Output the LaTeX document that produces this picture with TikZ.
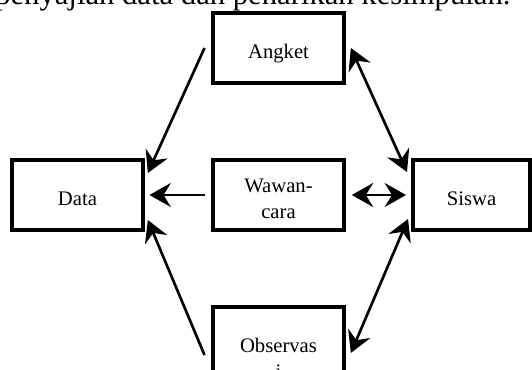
\documentclass[tikz,border=0pt]{standalone}
\usepackage{fontspec}
\setmainfont{Liberation Serif}
\usetikzlibrary{arrows.meta}
\tikzset{
    boite/.style={draw, line width=3pt, minimum width=98pt, minimum height=52.5pt,
      inner sep=2pt, align=center, font=\fontsize{15.5}{19.5}\selectfont},
    uneligne/.style={text height=18.5pt, text depth=3.5pt},
    deuxlignes/.style={text height=34.5pt, text depth=0pt},
    fleche/.style={line width=2pt, -{Stealth[length=16pt,width=18pt,inset=5.5pt]}},
    flechedouble/.style={line width=2pt, {Stealth[length=16pt,width=18pt,inset=5.5pt]}-{Stealth[length=16pt,width=18pt,inset=5.5pt]}},
  }

\begin{document}
\begin{tikzpicture}[x=0.75pt,y=-0.75pt]
				  \useasboundingbox (0,0) rectangle (532,369);
				  \clip (0,0) rectangle (532,369);

				  %TEXTE coupe
				  \node[anchor=base west, inner sep=0, font=\fontsize{23}{27}\selectfont] (titre) at (-5,4) {penyajian data dan penarikan kesimpulan.};

				  %BOITES
				  \node[boite, uneligne] (angket) at (278.5,48) {Angket};
				  \node[boite, uneligne] (data) at (77.5,195) {Data};
				  \node[boite, deuxlignes] (wawancara) at (278.5,195) {Wawan-\\cara};
				  \node[boite, uneligne, minimum width=87.75pt] (siswa) at (471.5,195) {Siswa};
				  \node[boite, deuxlignes, minimum height=72pt] (observasi) at (278.5,355) {Observas\\i};

				  %FLECHES vers Data
				  \draw[fleche] ([xshift=-5pt]angket.west) -- ([xshift=2.25pt,yshift=-11.25pt]data.north east);
				  \draw[fleche] ([xshift=-5pt]wawancara.west) -- ([xshift=3.5pt]data.east);
				  \draw[fleche] ([xshift=-5pt]observasi.west) -- ([xshift=2.25pt,yshift=9pt]data.south east);

				  %FLECHES doubles vers Siswa
				  \draw[flechedouble] ([xshift=3.75pt]angket.east) -- ([xshift=-3pt,yshift=-10.5pt]siswa.north west);
				  \draw[flechedouble] ([xshift=4.5pt]wawancara.east) -- ([xshift=-3.75pt]siswa.west);
				  \draw[flechedouble] ([xshift=3.75pt,yshift=1.5pt]observasi.east) -- ([xshift=-2.25pt,yshift=9.75pt]siswa.south west);

				  \end{tikzpicture}
\end{document}
